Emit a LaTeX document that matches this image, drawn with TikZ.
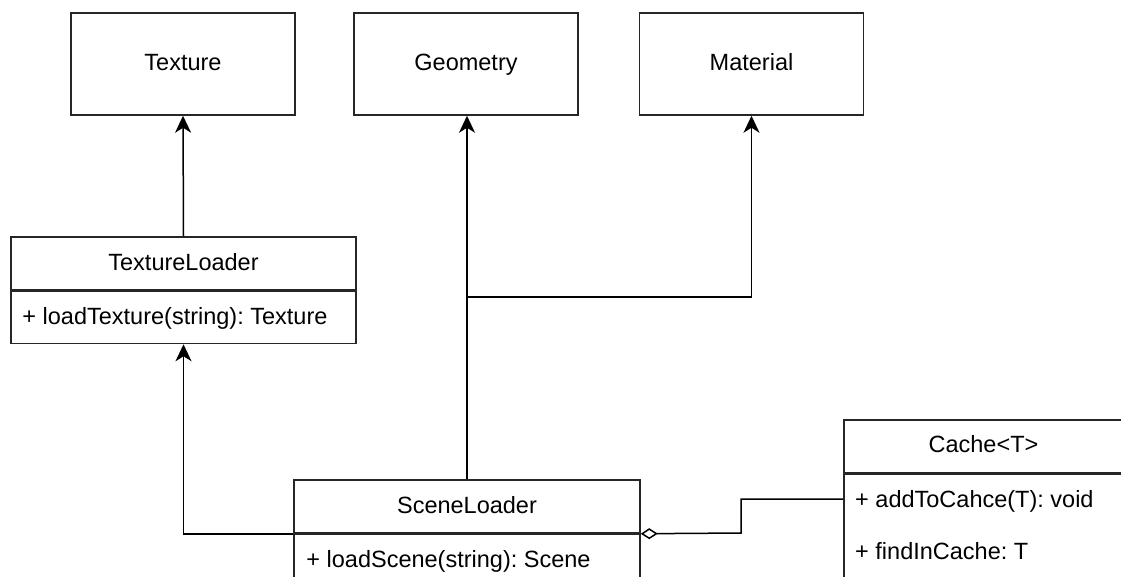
\documentclass[tikz,border=0pt]{standalone}
\usepackage{fontspec}
\setmainfont{Liberation Sans}
\usetikzlibrary{arrows.meta}
\frenchspacing
\begin{document}
\begin{tikzpicture}[x=1pt,y=-1pt,
  umlfont/.style={font=\fontsize{23.5}{28}\selectfont\frenchspacing},
  classbox/.style={draw=black!85, line width=1.5pt, rectangle, inner sep=0pt,
    text height=18pt, text depth=4pt, umlfont},
  member/.style={anchor=west, inner sep=0pt, text height=18pt, text depth=4pt, umlfont},
  conn/.style={line width=1.5pt, black},
  inherit/.style={conn, -{Stealth[length=17pt, width=16pt, inset=5pt]}},
  aggregate/.style={conn, {Diamond[open, length=17pt, width=11pt, fill=white]}-}]
\useasboundingbox (0,0) rectangle (1121,577);
\begin{scope}
\clip (0,0) rectangle (1121,577);

% plain classes on the top row
\node[classbox, minimum width=224pt, minimum height=102pt] (tex) at (183,64) {Texture};
\node[classbox, minimum width=224pt, minimum height=102pt] (geo) at (466,64) {Geometry};
\node[classbox, minimum width=224pt, minimum height=102pt] (mat) at (751.5,64) {Material};

% TextureLoader: header and member compartment
\node[classbox, minimum width=345pt, minimum height=53pt] (tlh) at (183.5,263.5) {TextureLoader};
\node[classbox, minimum width=345pt, minimum height=52pt, anchor=north] (tlb) at (tlh.south) {};
\node[member] (tlm) at ([xshift=12pt]tlb.west) {+ loadTexture(string): Texture};

% SceneLoader: header and member compartment
\node[classbox, minimum width=346pt, minimum height=53pt] (slh) at (467,506.5) {SceneLoader};
\node[classbox, minimum width=346pt, minimum height=80pt, anchor=north] (slb) at (slh.south) {};
\node[member] (slm) at ([xshift=13pt, yshift=-27pt]slb.north west) {+ loadScene(string): Scene};

% Cache<T>: header and member compartment
\node[classbox, minimum width=282pt, minimum height=53pt, anchor=north west] (ch) at (843,419) {};
\node[umlfont, inner sep=0pt, text height=18pt, text depth=4pt] (cht) at (983.5,445.5) {Cache<T>};
\node[classbox, minimum width=282pt, minimum height=130pt, anchor=north] (cb) at (ch.south) {};
\node[member] (cm1) at ([xshift=12pt, yshift=-27pt]cb.north west) {+ addToCahce(T): void};
\node[member] (cm2) at ([xshift=12pt, yshift=-79pt]cb.north west) {+ findInCache: T};

% connectors
\draw[inherit] (tlh.north) -- (tex.south);
\draw[inherit] (slh.north) -- (slh.north |- geo.south);
\coordinate (junction) at (467,297);
\draw[inherit] (junction) -| (mat.south);
\draw[inherit] (slh.south west) -| (tlb.south);
\coordinate (cachein) at (843,499);
\draw[aggregate] (slh.south east) -- (741,533) -- (741,499) -- (cachein);
\end{scope}
\end{tikzpicture}
\end{document}
